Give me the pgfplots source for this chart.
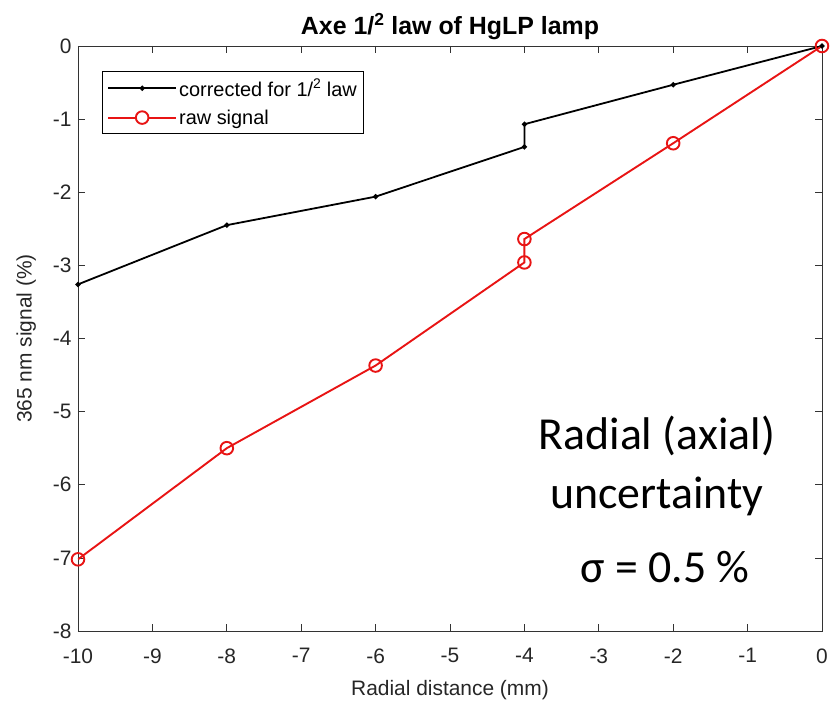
\documentclass[border=0pt]{standalone}
\usepackage{pgfplots}
\pgfplotsset{compat=1.18}
\usepackage{fontspec}
\setmainfont{Liberation Sans}
\newfontfamily\calib{Carlito}
\definecolor{mred}{RGB}{232,20,20}
\begin{document}
\begin{tikzpicture}
\begin{axis}[
  scale only axis, width=744bp, height=585bp,
  xmin=-10, xmax=0, ymin=-8, ymax=0,
  xtick={-10,-9,...,0}, ytick={-8,-7,...,0},
  tick align=inside, major tick length=7bp,
  tick style={black!80, line width=0.7bp},
  axis line style={black!80, line width=0.9bp},
  /pgf/number format/assume math mode=true,
  ticklabel style={font=\fontsize{21}{24}\selectfont, text=black!85},
  xticklabel style={yshift=-14bp},
  yticklabel style={xshift=-3bp},
  xlabel={Radial distance (mm)},
  ylabel={365 nm signal (\%)},
  label style={font=\fontsize{21}{24}\selectfont, text=black!85},
  xlabel style={yshift=-10bp},
  ylabel style={yshift=10bp},
  title={\textbf{Axe 1/\textsuperscript{2} law of HgLP lamp}},
  title style={font=\fontsize{25}{29}\selectfont, yshift=-3bp},
  legend style={at={(0.032,0.958)}, anchor=north west, draw=black,
    line width=0.7bp, font=\fontsize{20}{24}\selectfont,
    inner xsep=5bp, inner ysep=6bp, row sep=8bp, cells={anchor=west}},
]
\addplot[black, line width=1.8bp, mark=*, mark size=1.6bp,
  legend image code/.code={%
    \draw[black, line width=1.8bp] (0bp,0bp) -- (68bp,0bp);
    \fill[black] (34bp,0bp) circle (1.6bp);}] coordinates {
  (-10,-3.26) (-8,-2.45) (-6,-2.06) (-4,-1.38) (-4,-1.07) (-2,-0.53) (0,0)};
\addlegendentry{corrected for 1/\textsuperscript{2} law}
\addplot[mred, line width=1.9bp, mark=o, mark size=6.3bp,
  legend image code/.code={%
    \draw[mred, line width=2bp] (0bp,0bp) -- (27.7bp,0bp);
    \draw[mred, line width=2bp] (40.3bp,0bp) -- (68bp,0bp);
    \draw[mred, line width=1.9bp] (34bp,0bp) circle (6.3bp);}] coordinates {
  (-10,-7.02) (-8,-5.50) (-6,-4.37) (-4,-2.96) (-4,-2.64) (-2,-1.33) (0,0)};
\addlegendentry{raw signal}
\node[font=\calib\fontsize{46}{50}\selectfont, anchor=base] at (axis cs:-2.22,-5.52) {Radial (axial)};
\node[font=\calib\fontsize{46}{50}\selectfont, anchor=base] at (axis cs:-2.22,-6.32) {uncertainty};
\node[font=\calib\fontsize{46}{50}\selectfont, anchor=base] at (axis cs:-2.11,-7.34) {σ = 0.5 \%};
\end{axis}
\pgfresetboundingbox
\path ([shift={(-78bp,-77bp)}]current axis.south west) rectangle ([shift={(10bp,46bp)}]current axis.north east);
\end{tikzpicture}
\end{document}
